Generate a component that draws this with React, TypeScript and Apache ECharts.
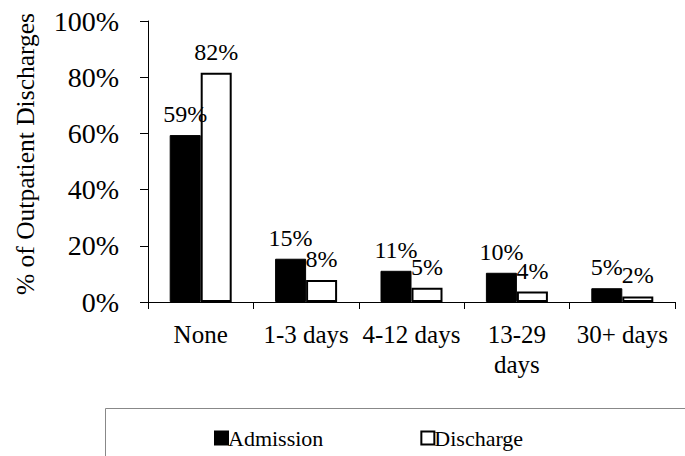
import React, { useEffect, useRef } from "react";
import * as echarts from "echarts";

const categories = ["None", "1-3 days", "4-12 days", "13-29\ndays", "30+ days"];
const admission = [59.4, 15.4, 11.1, 10.4, 4.9];
const discharge = [81.6, 7.8, 5.1, 3.7, 2.0];
const seriesNames = ["Admission", "Discharge"];
const yAxisTitle = "% of Outpatient Discharges";

const FONT = "Liberation Serif";

export default function App() {
  const ref = useRef<HTMLDivElement>(null);
  useEffect(() => {
    document.body.style.margin = "0";
    if (!ref.current) return;
    const chart = echarts.init(ref.current, null, { renderer: "svg" });
    const label = {
      show: true,
      position: "top",
      distance: 9,
      color: "#000",
      fontFamily: FONT,
      fontSize: 24,
      formatter: (p: any) => Math.round(p.value) + "%",
    };
    chart.setOption({
      animation: false,
      backgroundColor: "#fff",
      textStyle: { fontFamily: FONT, color: "#000" },
      grid: { left: 148, right: 10, top: 21, bottom: 154, containLabel: false },
      legend: {
        left: 209,
        top: 422,
        icon: "rect",
        itemWidth: 13,
        itemHeight: 13,
        itemGap: 97,
        textStyle: { fontFamily: FONT, fontSize: 22, color: "#000", padding: [0, 0, 0, -5] },
        data: seriesNames,
      },
      graphic: [
        {
          type: "rect",
          shape: { x: 105.5, y: 408.5, width: 620, height: 100 },
          style: { fill: "none", stroke: "#888", lineWidth: 1 },
          z: -1,
        },
        {
          type: "text",
          x: 25,
          y: 154,
          rotation: Math.PI / 2,
          style: {
            text: yAxisTitle,
            fontFamily: FONT,
            fontSize: 25.5,
            fill: "#000",
            align: "center",
            verticalAlign: "middle",
          },
        },
      ],
      xAxis: {
        type: "category",
        data: categories,
        axisLine: { lineStyle: { color: "#000", width: 1 } },
        axisTick: { show: true, length: 7, lineStyle: { color: "#000" } },
        axisLabel: {
          interval: 0,
          color: "#000",
          fontFamily: FONT,
          fontSize: 25,
          lineHeight: 30,
          margin: 17,
        },
      },
      yAxis: {
        type: "value",
        min: 0,
        max: 100,
        interval: 20,
        splitLine: { show: false },
        axisLine: { show: true, lineStyle: { color: "#000", width: 1 } },
        axisTick: { show: true, length: 8, lineStyle: { color: "#000" } },
        axisLabel: {
          formatter: "{value}%",
          color: "#000",
          fontFamily: FONT,
          fontSize: 28,
          margin: 29,
        },
      },
      series: [
        {
          name: seriesNames[0],
          type: "bar",
          data: admission,
          barWidth: 31,
          barGap: "0%",
          itemStyle: { color: "#000", borderColor: "#000", borderWidth: 1 },
          label,
        },
        {
          name: seriesNames[1],
          type: "bar",
          data: discharge,
          barWidth: 31,
          itemStyle: { color: "#fff", borderColor: "#000", borderWidth: 2 },
          label,
        },
      ],
    });
    return () => chart.dispose();
  }, []);
  return <div ref={ref} style={{ width: 685, height: 456 }} />;
}
